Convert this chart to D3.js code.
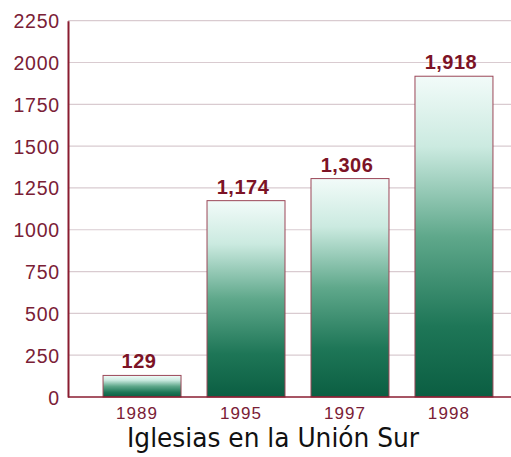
<!DOCTYPE html>
<html>
<meta charset="utf-8">
<head>
<title>Iglesias en la Union Sur</title>
<script src="https://d3js.org/d3.v7.min.js"></script>
<style>
  body { margin: 0; background: #fff; }
</style>
</head>
<body>
<div id="plot"></div>
<script>

// data
var years = ["1989", "1995", "1997", "1998"];
var churches = [129, 1174, 1306, 1918];
var yTicks = [0, 250, 500, 750, 1000, 1250, 1500, 1750, 2000, 2250];
var title = "Iglesias en la Unión Sur";

var width = 511, height = 457;
var left = 68, top0 = 20.7, bottom = 397;

var svg = d3.select("#plot").append("svg")
    .attr("width", width)
    .attr("height", height);

var xScale = d3.scaleBand()
    .domain(years)
    .range([left, 528])
    .paddingInner(0.25)
    .paddingOuter(0.337);

var yScale = d3.scaleLinear()
    .domain([0, 2250])
    .range([bottom, top0]);

// gradient for bars
var grad = svg.append("defs").append("linearGradient")
    .attr("id", "barGrad")
    .attr("x1", 0).attr("y1", 0).attr("x2", 0).attr("y2", 1);
grad.append("stop").attr("offset", "0%").attr("stop-color", "#f2fbf9");
grad.append("stop").attr("offset", "22%").attr("stop-color", "#cbeae0");
grad.append("stop").attr("offset", "50%").attr("stop-color", "#5fa88b");
grad.append("stop").attr("offset", "78%").attr("stop-color", "#1e7657");
grad.append("stop").attr("offset", "100%").attr("stop-color", "#0b5e42");

// gridlines
svg.append("g")
    .selectAll("line")
    .data(yTicks.slice(1))
    .enter()
    .append("line")
    .attr("x1", left)
    .attr("x2", width)
    .attr("y1", function(d){ return yScale(d); })
    .attr("y2", function(d){ return yScale(d); })
    .attr("stroke", "#d9cbd0")
    .attr("stroke-width", 1.2);

// bars
var data = years.map(function(y, i){ return { year: y, value: churches[i] }; });

svg.append("g")
    .selectAll("rect")
    .data(data)
    .enter()
    .append("rect")
    .attr("x", function(d){ return xScale(d.year); })
    .attr("y", function(d){ return yScale(d.value); })
    .attr("width", xScale.bandwidth())
    .attr("height", function(d){ return bottom - yScale(d.value); })
    .attr("fill", "url(#barGrad)")
    .attr("stroke", "#9b4758")
    .attr("stroke-width", 1);

// value labels
svg.append("g")
    .selectAll("text")
    .data(data)
    .enter()
    .append("text")
    .attr("x", function(d){ return xScale(d.year) + xScale.bandwidth() / 2 - 3; })
    .attr("y", function(d){ return yScale(d.value) - 7; })
    .attr("text-anchor", "middle")
    .style("font-family", "'Liberation Sans', Arial, sans-serif")
    .attr("font-weight", "bold")
    .attr("font-size", 20)
    .attr("letter-spacing", 0.5)
    .attr("fill", "#7c1326")
    .text(function(d){ return d3.format(",")(d.value); });

// y axis
var yAxis = d3.axisLeft(yScale).tickValues(yTicks).tickSize(0).tickPadding(8).tickFormat(d3.format("d"));
var gy = svg.append("g")
    .attr("transform", "translate(" + left + ",0)")
    .call(yAxis);
gy.select(".domain").attr("stroke", "#8a1c30").attr("stroke-width", 2);
gy.selectAll("text")
    .style("font-family", "'Liberation Sans', Arial, sans-serif")
    .attr("font-size", 19.5)
    .attr("letter-spacing", 0.8)
    .attr("dy", "0.36em")
    .attr("fill", "#7a2036");

// x axis
var xAxis = d3.axisBottom(xScale).tickSize(0).tickPadding(10);
var gx = svg.append("g")
    .attr("transform", "translate(0," + bottom + ")")
    .call(xAxis);
gx.select(".domain").attr("d", "M" + left + ",0H" + width).attr("stroke", "#8a1c30").attr("stroke-width", 1.6);
gx.selectAll("text")
    .style("font-family", "'Liberation Sans', Arial, sans-serif")
    .attr("font-size", 17)
    .attr("letter-spacing", 1.1)
    .attr("dx", -5)
    .attr("fill", "#7a2036");

// title
svg.append("text")
    .attr("x", 273)
    .attr("y", 447)
    .attr("text-anchor", "middle")
    .style("font-family", "'DejaVu Sans', sans-serif")
    .style("font-stretch", "condensed")
    .attr("font-size", 26)
    .attr("textLength", 292)
    .attr("lengthAdjust", "spacingAndGlyphs")
    .attr("fill", "#111")
    .text(title);

</script>
</body>
</html>
